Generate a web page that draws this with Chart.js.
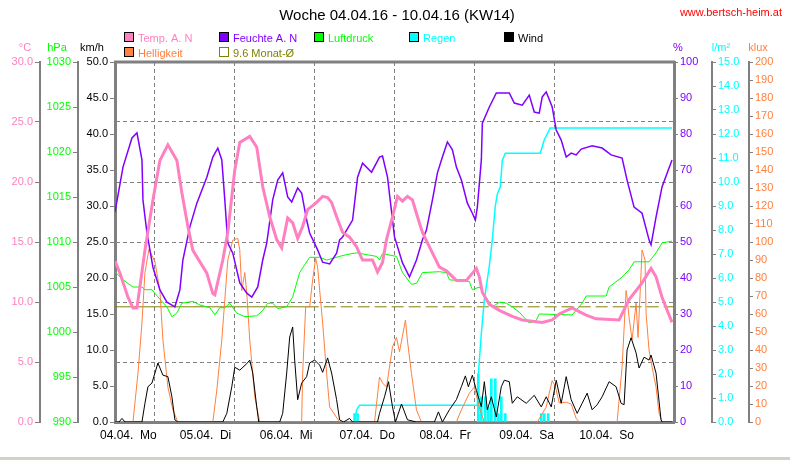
<!DOCTYPE html>
<html>
<head>
<meta charset="utf-8">
<script src="https://cdn.jsdelivr.net/npm/chart.js@4"></script>
<style>
  html,body{margin:0;padding:0;background:#fff;}
  #c{display:block;}
</style>
</head>
<body>
<canvas id="c" width="790" height="460"></canvas>
<script>
// week chart 04.04.16 - 10.04.16, x = hours since 04.04. 00:00
const dayLabels = ['04.04.  Mo','05.04.  Di','06.04.  Mi','07.04.  Do','08.04.  Fr','09.04.  Sa','10.04.  So'];

const tempHours = [0,1.5,3.9,5.4,6.6,9,11.4,13.5,15.9,18.6,20.1,21.9,23.4,27.6,29.4,30,32.4,33.9,36,37.5,40.5,42.6,44.4,46.5,48.6,50.1,51.9,53.4,54.9,56.4,57.9,60.6,62.4,63.9,65.1,66.6,68.4,70.5,72.6,74.4,77.4,78.9,80.4,81.6,83.4,84.9,86.4,87.9,89.4,90.9,92.4,94.5,97.5,99.6,102.6,105.6,108.6,109.5,110.4,112.5,115.5,119.4,122.4,128.4,131.4,133.5,137.4,139.5,141.6,144.6,151.5,154.5,158.4,161.1,162.6,164.4,167.4];
const tempVals = [13.4,12.4,10.4,9.5,9.5,14.3,18.5,21.8,23.1,21.8,19.1,16.3,14.3,12.4,10.7,10.6,13.5,15.8,21,23.3,23.8,22.9,19.6,17.1,15.2,14.5,17,16.6,15.3,16.3,17.7,18.3,18.8,18.7,18.3,17.1,15.8,15.4,14.6,13.5,13.5,12.5,13.3,15.2,17.1,18.8,18.4,18.8,18.5,17.1,15.8,14.6,12.9,12.6,11.8,11.8,12.8,12.1,10.8,9.8,9.3,8.8,8.5,8.3,8.5,9.0,9.5,9.2,8.9,8.6,8.5,10.2,11.6,12.8,12.1,10.4,8.3];

const humHours = [0,2.4,5.1,6.6,8.1,8.4,9.6,11.4,13.5,15.6,18,19.5,20.4,22.5,24.6,27.6,29.4,30.9,32.1,33,33.9,35.4,37.5,39.6,41.1,42.9,44.4,45.6,47.4,48.9,50.4,51.9,53.1,54.9,56.1,57.6,58.5,60.9,62.4,64.5,66.6,67.5,68.4,71.4,72.9,74.4,77.1,79.5,80.4,81.9,84,86.4,88.5,90.6,92.4,93.6,95.4,96.9,98.4,99.9,101.4,102.6,104.1,105.9,107.4,108.3,108.9,110.1,110.4,112.5,114.6,116.4,118.5,120,122.4,124.5,126,127.5,128.4,129.6,131.4,132.6,134.1,135.6,137.1,138.6,140.1,143.4,146.4,149.1,152.4,153.9,156,158.4,160.5,161.1,162.6,164.4,167.4];
const humVals = [58.3,70.8,78.9,80.3,72.8,61.7,52.5,43,36.7,33.3,32,36.7,45,54.2,60.8,68,73.6,76.1,72.8,61.7,49.7,46.9,38.6,35.8,34.7,37.5,45,49.7,61.7,67.2,69.2,62.5,61.1,65,63.6,56.1,52.5,47.8,44.4,43.9,46.9,50.6,51.4,56.1,68,71.9,69.4,73.6,73.9,68,51.4,44.2,40.3,45,50.6,53.3,61.7,69.2,73.6,77.8,75.6,70.8,67.2,60.8,58,56.1,59.7,72.8,83,87.5,91.4,91.4,91.4,88.6,88,90.8,86.1,85.8,90.3,91.7,87.5,81.1,78.3,73.6,74.7,74.2,75.8,76.7,76.1,74.2,73.3,67.2,59.7,58,50.6,49.2,56.9,65.3,72.8];

const presHours = [0,2.4,5.4,8.1,9,11.1,12.9,15.6,17.1,18.6,20.1,23.4,25.5,28.5,30,31.5,33,34.5,36.6,39,42.6,44.4,45.9,47.4,48.9,51.6,53.4,55.5,58.5,61.5,63.6,67.5,69.6,72.6,78.6,79.5,80.4,84.6,86.4,89.1,90.6,92.4,97.5,99.6,100.5,106.5,107.4,109.5,111.6,113.4,115.5,117.6,119.4,121.5,124.5,126.6,127.5,137.4,140.4,141.6,147.6,148.5,152.4,154.5,156,160.5,162.6,164.4,167.4];
const presVals = [1006.7,1005.8,1005,1005,1004.7,1004.7,1003.9,1002.8,1001.7,1002.1,1003.2,1003.4,1003,1002.7,1001.9,1002.7,1002.7,1003.2,1002.1,1001.7,1001.8,1002.4,1003.2,1003.2,1002.6,1002.8,1003.9,1006.6,1008.3,1008.3,1008,1008.4,1008.6,1008.8,1008.4,1008,1008.7,1008.4,1006.6,1005.3,1005.4,1006.6,1006.7,1006.6,1005.8,1005.6,1004.7,1005,1003.8,1002.8,1003.3,1003.2,1002.8,1002.2,1001,1001.3,1002,1001.9,1003.2,1004,1004,1005,1006.1,1006.9,1007.8,1007.8,1008.8,1009.9,1010.1];

const windHours = [0,1.2,2.1,3,8.1,9,9.9,11.1,12.9,14.4,15.9,17.1,18,18.9,32.4,33.6,35.1,36,37.5,39.6,40.5,41.4,42.6,43.2,49.5,50.4,51.6,52.5,53.4,54,54.9,56.1,57.6,58.5,60,61.5,62.4,63.9,65.1,66.6,67.5,68.7,70.5,71.4,78.9,79.5,81,82.2,83.4,84.3,86.1,87.9,90.6,96,97.2,98.4,100.5,102.6,104.1,105.3,106.2,107.4,108.6,110.1,111,111.9,113.1,114.6,116.1,117,118.5,119.4,120.9,123.6,126,128.1,129.6,131.1,132.6,134.1,135.6,137.1,138.9,140.4,141.9,143.4,144.9,146.4,148.5,150.6,152.1,153,153.9,155.1,156.6,157.5,159,160.5,161.1,162.6,164.1,164.4,167.4];
const windVals = [0,0,0.5,0,0,2.6,4.9,5.4,8.2,6.5,6.3,3.5,0.3,0,0,1.2,4.9,7.6,7.2,8.1,8.6,6.8,2.1,0,0,1.2,6.8,11.8,13.2,8.6,3.1,5.4,6.3,8.2,8.6,7.9,6.9,8.9,6.8,3.1,0.3,0,0.5,0,0,1.2,3.5,5.6,2.1,0,2.5,0.3,0,0,1.4,0,1.7,3.1,4.9,6.4,4.9,6.5,4.4,2.1,5.6,1.7,3.5,0.7,4.9,5.8,5.6,2.6,3.5,2.6,3.7,2.1,3.5,2.1,5.8,2.6,6.3,3.1,1.2,2.6,4.0,1.7,2.4,3.5,5.6,4.9,2.6,2.4,10,11.7,9.6,7.5,9.0,8.6,9.3,6.8,0.3,0,0];

const lightHours = [0,5.4,6.9,8.1,9,10.2,12,13.5,14.4,15.9,17.4,18.9,29.4,30.6,32.1,33,33.9,35.4,36.9,37.5,38.1,39,39.6,40.5,42,43.5,56.1,56.4,57.3,58.5,59.4,60.3,60.9,62.4,63.6,64.5,67.5,78,79.5,80.4,81.6,83.4,84.6,85.5,87.3,87.9,89.1,90.6,92.1,102.6,104.1,106.5,108,109.5,111,126.9,129.6,130.5,131.4,132.3,133.5,135.6,137.1,138.6,139.5,150.9,152.4,153.6,153.9,154.5,155.4,156.6,157.2,158.1,158.4,159.3,159.6,160.5,161.4,162.6,163.5,164.4,167.4];
const lightVals = [0,0,27,55,83,96,89,73,45.6,19.4,6.7,0,0,17.8,45.6,67.8,90,101,102,95.6,73,83,71.7,45.6,14,0,0,27,64,64,79,91,86,55,27,8.3,0,0,25,21.7,19.4,41.7,47,39,56.7,45,27,6.7,0,0,6.7,16,19.4,8,0,0,8.3,16,23,20,10.6,11,10,2,0,0,30.6,73,69,58,45.6,66,47,83,95.6,90,60.6,40,30.6,19.4,5,0,0];

const rainHours = [72,72.6,73.5,108.9,109.2,110.1,111,112.5,113.4,114.3,114.9,115.8,116.4,117.3,127.8,129,130.8,167.4];
const rainSum = [0,0.5,0.7,0.7,2.0,3.7,5.1,6.5,7.6,9.0,9.5,9.8,10.9,11.2,11.2,11.75,12.25,12.25];

const rainBarHours = [72,72.9,109.2,110.1,111.3,112.2,113.1,114.3,115.2,116.1,117.3,128.1,129,130.2];
const rainBarVals = [0.35,0.35,2.0,1.05,1.05,0.6,1.8,1.8,0.35,1.05,0.35,0.35,0.35,0.35];

const monthHours = [0,57.6,168];
const monthAvg = 9.6;

const cTemp='#ff80c0', cHum='#8000ff', cPres='#00ff00', cRain='#00ffff', cWind='#000000', cLight='#ff8040', cMonth='#808000', cGrid='#808080';
const FONT = '"Liberation Sans", Arial, sans-serif';

function toXY(xs, ys){ return xs.map((x,i)=>({x:x, y:ys[i]})); }

Chart.defaults.font.family = FONT;
Chart.defaults.font.size = 11;

function yAxis(pos, weight, min, max, step, color, dec, width, bw){
  return {
    type:'linear', position:pos, weight:weight, min:min, max:max,
    ticks:{stepSize:step, color:color, padding:2, autoSkip:false, callback:v=>v.toFixed(dec), font:{size:11}},
    grid:{drawOnChartArea:false, tickLength:5, tickColor:cGrid, tickWidth:1},
    border:{color:cGrid, width:bw},
    afterFit:s=>{ s.width = width; }
  };
}

const scales = {
  x:{
    type:'linear', min:0, max:168, offset:false,
    ticks:{stepSize:24, autoSkip:false, maxRotation:0, align:'start', labelOffset:-15, padding:6, color:'#000', font:{size:12},
      callback:v=>dayLabels[v/24] || ''},
    grid:{drawTicks:false, lineWidth:1,
      color:c=>(c.tick && (c.tick.value===0 || c.tick.value===168)) ? 'rgba(0,0,0,0)' : cGrid},
    border:{color:cGrid, width:3, dash:[4,3]},
    afterFit:s=>{ s.height = 38; }
  },
  yT: yAxis('left',2,0,30,5,cTemp,1,40,2),
  yP: yAxis('left',1,990,1030,5,cPres,0,38,2),
  yW: yAxis('left',0,0,50,5,'#000',1,37,3),
  yH: yAxis('right',0,0,100,10,cHum,0,38,3),
  yR: yAxis('right',1,0,15,1,cRain,1,37,2),
  yL: yAxis('right',2,0,200,10,cLight,0,41,2)
};
// the temperature axis carries the dashed horizontal grid
scales.yT.grid = {drawOnChartArea:true, tickLength:5, tickColor:cGrid, tickWidth:1, tickBorderDash:[], lineWidth:1,
  color:c=>(c.tick && (c.tick.value===0 || c.tick.value===30)) ? 'rgba(0,0,0,0)' : cGrid};
scales.yT.border.dash = [4,3];
scales.yR.grid.tickLength = 4;
scales.yL.grid.tickLength = 4;
scales.yH.grid.tickLength = 4;

const legendRows = [
  [[124,'Temp. A. N',cTemp,true],[219,'Feuchte A. N',cHum,true],[314,'Luftdruck',cPres,true],[409,'Regen',cRain,true],[504,'Wind',cWind,true]],
  [[124,'Helligkeit',cLight,true],[219,'9.6 Monat-\u00D8',cMonth,false]]
];
const unitTitles = [[25,'\u00B0C',cTemp],[57,'hPa',cPres],[92,'km/h','#000'],[678,'%',cHum],[721,'l/m\u00B2',cRain],[758,'klux',cLight]];

const decor = {
  id:'decor',
  beforeDraw(chart){
    const c = chart.ctx;
    c.save(); c.fillStyle='#fff'; c.fillRect(0,0,chart.width,chart.height); c.restore();
  },
  afterDraw(chart){
    const c = chart.ctx, a = chart.chartArea;
    c.save();
    // top frame
    c.strokeStyle=cGrid; c.lineWidth=3;
    c.beginPath(); c.moveTo(a.left-1, a.top); c.lineTo(a.right+1, a.top); c.stroke();
    // title + url
    c.textBaseline='alphabetic';
    c.fillStyle='#000'; c.font='15px '+FONT; c.textAlign='center';
    c.fillText('Woche 04.04.16 - 10.04.16 (KW14)', 397, 20);
    c.fillStyle='#ff0000'; c.font='11px '+FONT; c.textAlign='right';
    c.fillText('www.bertsch-heim.at', 782, 16);
    // legend
    c.textAlign='left'; c.font='11px '+FONT; c.lineWidth=1;
    legendRows.forEach((row,r)=>{
      const by = 32 + r*15;
      row.forEach(([x,txt,col,filled])=>{
        if(filled){
          c.fillStyle=col; c.fillRect(x,by,10,10);
          c.strokeStyle='#000'; c.strokeRect(x+0.5,by+0.5,9,9);
        } else {
          c.strokeStyle=col; c.strokeRect(x+0.5,by+0.5,9,9);
        }
        c.fillStyle=col; c.fillText(txt, x+14, by+10);
      });
    });
    // axis unit titles
    c.textAlign='center';
    unitTitles.forEach(([x,txt,col])=>{ c.fillStyle=col; c.fillText(txt, x, 51); });
    // status bar strip
    c.fillStyle='#d4d0c8'; c.fillRect(0,457,790,3);
    c.restore();
  }
};

const line = (label, xs, ys, axis, color, width, order) => ({
  type:'line', label:label, data:toXY(xs, ys), yAxisID:axis, borderColor:color, backgroundColor:color,
  borderWidth:width, pointRadius:0, tension:0, fill:false, order:order
});

const datasets = [
  line('Temp. A. N', tempHours, tempVals, 'yT', cTemp, 3, 1),
  line('Feuchte A. N', humHours, humVals, 'yH', cHum, 1.5, 2),
  line('Luftdruck', presHours, presVals, 'yP', cPres, 1, 3),
  line('Wind', windHours, windVals, 'yW', cWind, 1, 4),
  line('Helligkeit', lightHours, lightVals, 'yL', cLight, 1, 5),
  line('Regen', rainHours, rainSum, 'yR', cRain, 1.5, 6),
  {type:'bar', label:'Regen/h', data:toXY(rainBarHours, rainBarVals), yAxisID:'yR', xAxisID:'x',
    backgroundColor:cRain, borderWidth:0, barThickness:2, order:7},
  Object.assign(line('9.6 Monat-\u00D8', monthHours, monthHours.map(()=>monthAvg), 'yT', cMonth, 1, 8),
    {segment:{borderDash:ctx=>ctx.p0DataIndex===0 ? [] : [12,5]}})
];

new Chart(document.getElementById('c'), {
  type:'line',
  data:{datasets:datasets},
  options:{
    responsive:false, animation:false, devicePixelRatio:1,
    layout:{padding:{top:62, left:0, right:0, bottom:0}},
    plugins:{legend:{display:false}, title:{display:false}, tooltip:{enabled:false}},
    scales:scales
  },
  plugins:[decor]
});
</script>
</body>
</html>
